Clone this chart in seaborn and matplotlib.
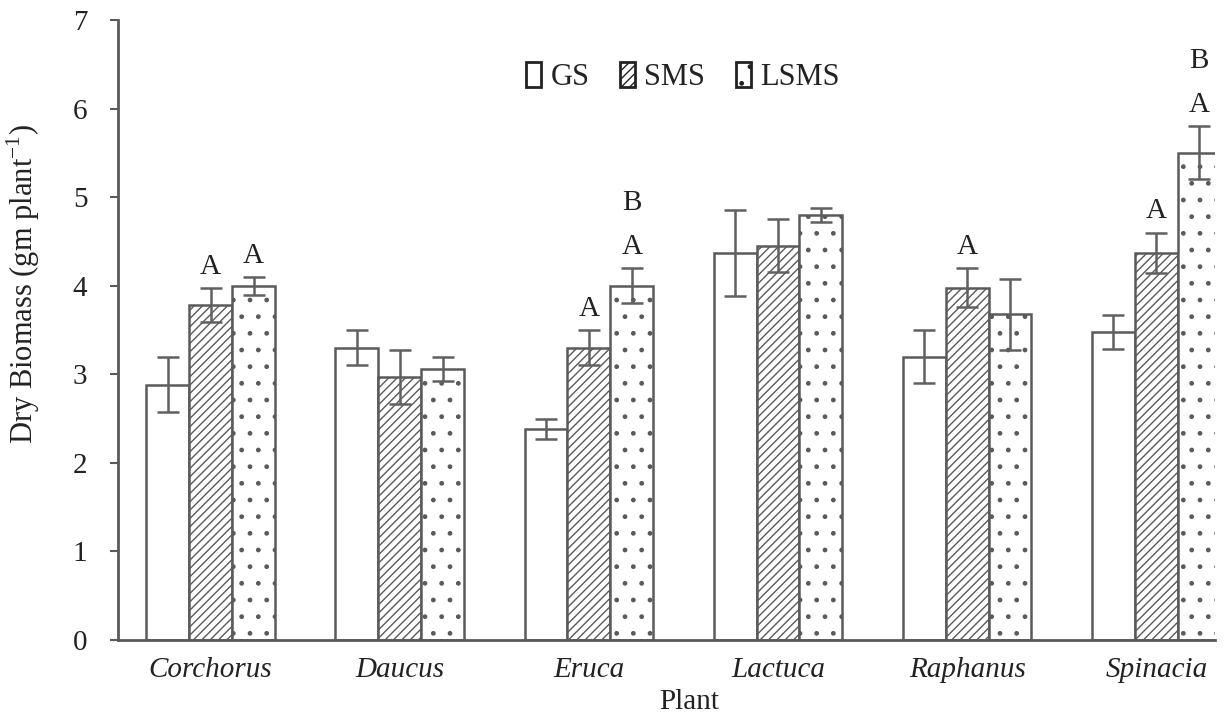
import numpy as np
import pandas as pd
import matplotlib
matplotlib.use("Agg")
import matplotlib.pyplot as plt
import seaborn as sns

plants = ["Corchorus", "Daucus", "Eruca", "Lactuca", "Raphanus", "Spinacia"]
treatments = ["GS", "SMS", "LSMS"]
gs_mean = [2.88, 3.30, 2.38, 4.37, 3.20, 3.48]
sms_mean = [3.78, 2.97, 3.30, 4.45, 3.98, 4.37]
lsms_mean = [4.00, 3.06, 4.00, 4.80, 3.68, 5.50]
gs_err = [0.31, 0.20, 0.11, 0.49, 0.30, 0.19]
sms_err = [0.19, 0.30, 0.20, 0.30, 0.22, 0.23]
lsms_err = [0.10, 0.14, 0.20, 0.08, 0.40, 0.30]
# significance letters: (plant, treatment, letters from bottom to top)
ann_plant = ["Corchorus", "Corchorus", "Eruca", "Eruca", "Raphanus", "Spinacia", "Spinacia"]
ann_treat = ["SMS", "LSMS", "SMS", "LSMS", "SMS", "SMS", "LSMS"]
ann_text = [["A"], ["A"], ["A"], ["A", "B"], ["A"], ["A"], ["A", "B"]]

means = {"GS": gs_mean, "SMS": sms_mean, "LSMS": lsms_mean}
errs = {"GS": gs_err, "SMS": sms_err, "LSMS": lsms_err}
rows = []
for t in treatments:
    for p, m, e in zip(plants, means[t], errs[t]):
        rows.append({"Plant": p, "Treatment": t, "Biomass": m, "Err": e})
df = pd.DataFrame(rows)

sns.set_theme(style="white")
plt.rcParams["font.family"] = ["Liberation Serif", "DejaVu Serif"]
plt.rcParams["hatch.linewidth"] = 1.0
plt.rcParams["mathtext.fontset"] = "custom"
plt.rcParams["mathtext.rm"] = "Liberation Serif"

edge = "#5a5a5a"
txtc = "#222222"
fig = plt.figure(figsize=(12.24, 7.17), dpi=100)
ax = fig.add_axes([0.0964, 0.1074, 0.8962, 0.8646])

sns.barplot(data=df, x="Plant", y="Biomass", hue="Treatment", order=plants,
            hue_order=treatments, palette=["white", "white", "white"],
            errorbar=None, width=0.68, edgecolor=edge, linewidth=1.8,
            ax=ax, legend=True)

hatches = {"GS": "", "SMS": "////", "LSMS": "."}
bar_pos = {}
for cont, t in zip(ax.containers, treatments):
    for bar, p, m, e in zip(cont, plants, means[t], errs[t]):
        bar.set_hatch(hatches[t])
        bar.set_edgecolor(edge)
        cx = bar.get_x() + bar.get_width() / 2
        bar_pos[(p, t)] = (cx, m + e)
        ax.errorbar(cx, m, yerr=e, fmt="none", ecolor="#606060",
                    elinewidth=1.8, capsize=8, capthick=1.8, zorder=5)

for p, t, letters in zip(ann_plant, ann_treat, ann_text):
    cx, top = bar_pos[(p, t)]
    for k, s in enumerate(letters):
        ax.text(cx, top + 0.24 + 0.5 * k, s, ha="center", va="center",
                fontsize=21, color=txtc)

ax.set_ylim(0, 7)
ax.set_xlim(-0.49, 5.31)
ax.set_yticks(range(0, 8))
ax.tick_params(axis="y", which="major", left=True, length=6, width=1.5,
               color=edge, labelsize=21, pad=16, labelcolor=txtc)
ax.tick_params(axis="x", bottom=False, labelsize=21, pad=6, labelcolor=txtc)
for lab in ax.get_xticklabels():
    lab.set_fontstyle("italic")
for s in ["top", "right"]:
    ax.spines[s].set_visible(False)
for s in ["left", "bottom"]:
    ax.spines[s].set_color(edge)
    ax.spines[s].set_linewidth(2)

ax.set_ylabel("Dry Biomass (gm plant$^{-1}$)", fontsize=22, color=txtc)
ax.yaxis.label.set_verticalalignment("center")
ax.yaxis.set_label_coords(-0.086, 0.575)
ax.set_xlabel("Plant", fontsize=21, color=txtc)
ax.xaxis.label.set_verticalalignment("center")
ax.xaxis.set_label_coords(0.521, -0.100)

handles, labels = ax.get_legend_handles_labels()
for h, t in zip(handles, treatments):
    h.set_hatch(hatches[t])
    h.set_edgecolor(txtc)
    h.set_linewidth(2)
leg = ax.legend(handles, labels, loc="center", bbox_to_anchor=(0.515, 0.908),
                ncol=3, frameon=False, fontsize=22, handlelength=0.5,
                handleheight=0.9, handletextpad=0.3, columnspacing=1.0)
for txt in leg.get_texts():
    txt.set_color(txtc)

fig.savefig("out.png", dpi=100)
